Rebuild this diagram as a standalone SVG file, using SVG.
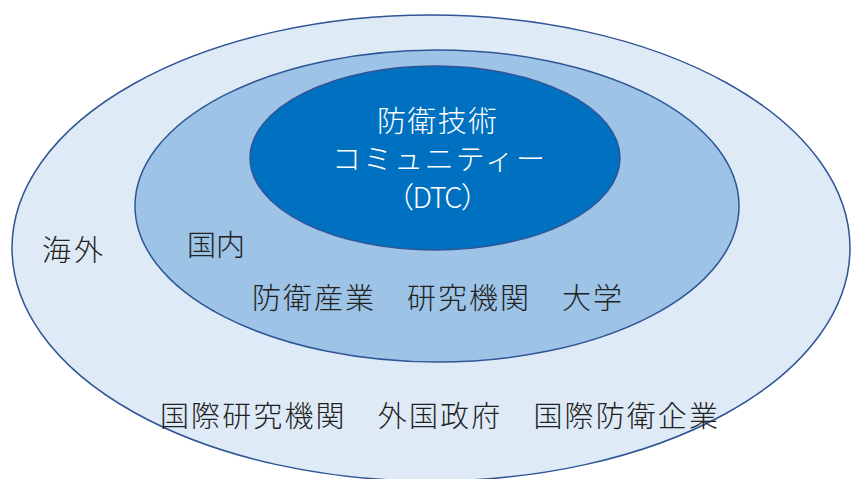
<svg xmlns="http://www.w3.org/2000/svg" width="853" height="479" viewBox="0 0 853 479">
<style>
.ring{stroke:#2F5597;stroke-width:1.5}
.t{font-family:"Noto Sans CJK JP","Noto Sans",sans-serif;font-size:29px;font-weight:300;fill:#222222}
.w{font-family:"Noto Sans CJK JP","Noto Sans",sans-serif;font-size:29px;font-weight:300;fill:#FFFFFF}
</style>
<rect width="853" height="479" fill="#FFFFFF"/>
<g id="overseas">
<ellipse class="ring" cx="431" cy="248" rx="419" ry="233" fill="#DEEAF6"/>
<text class="t" x="42" y="261" textLength="61">海外</text>
<text class="t" x="160" y="427" textLength="558" font-size="30">国際研究機関　外国政府　国際防衛企業</text>
</g>
<g id="domestic">
<ellipse class="ring" cx="437" cy="206" rx="302" ry="156" fill="#9DC3E6"/>
<text class="t" x="187" y="256" textLength="58">国内</text>
<text class="t" x="252" y="309" textLength="370">防衛産業　研究機関　大学</text>
</g>
<g id="dtc">
<ellipse class="ring" cx="435" cy="158" rx="185" ry="92" fill="#0070C0"/>
<text class="w" x="377" y="132" textLength="120">防衛技術</text>
<text class="w" x="332" y="170" textLength="213">コミュニティー</text>
<text class="w" x="385" y="208" textLength="105">（DTC）</text>
</g>
<g id="connectors"/>
</svg>
